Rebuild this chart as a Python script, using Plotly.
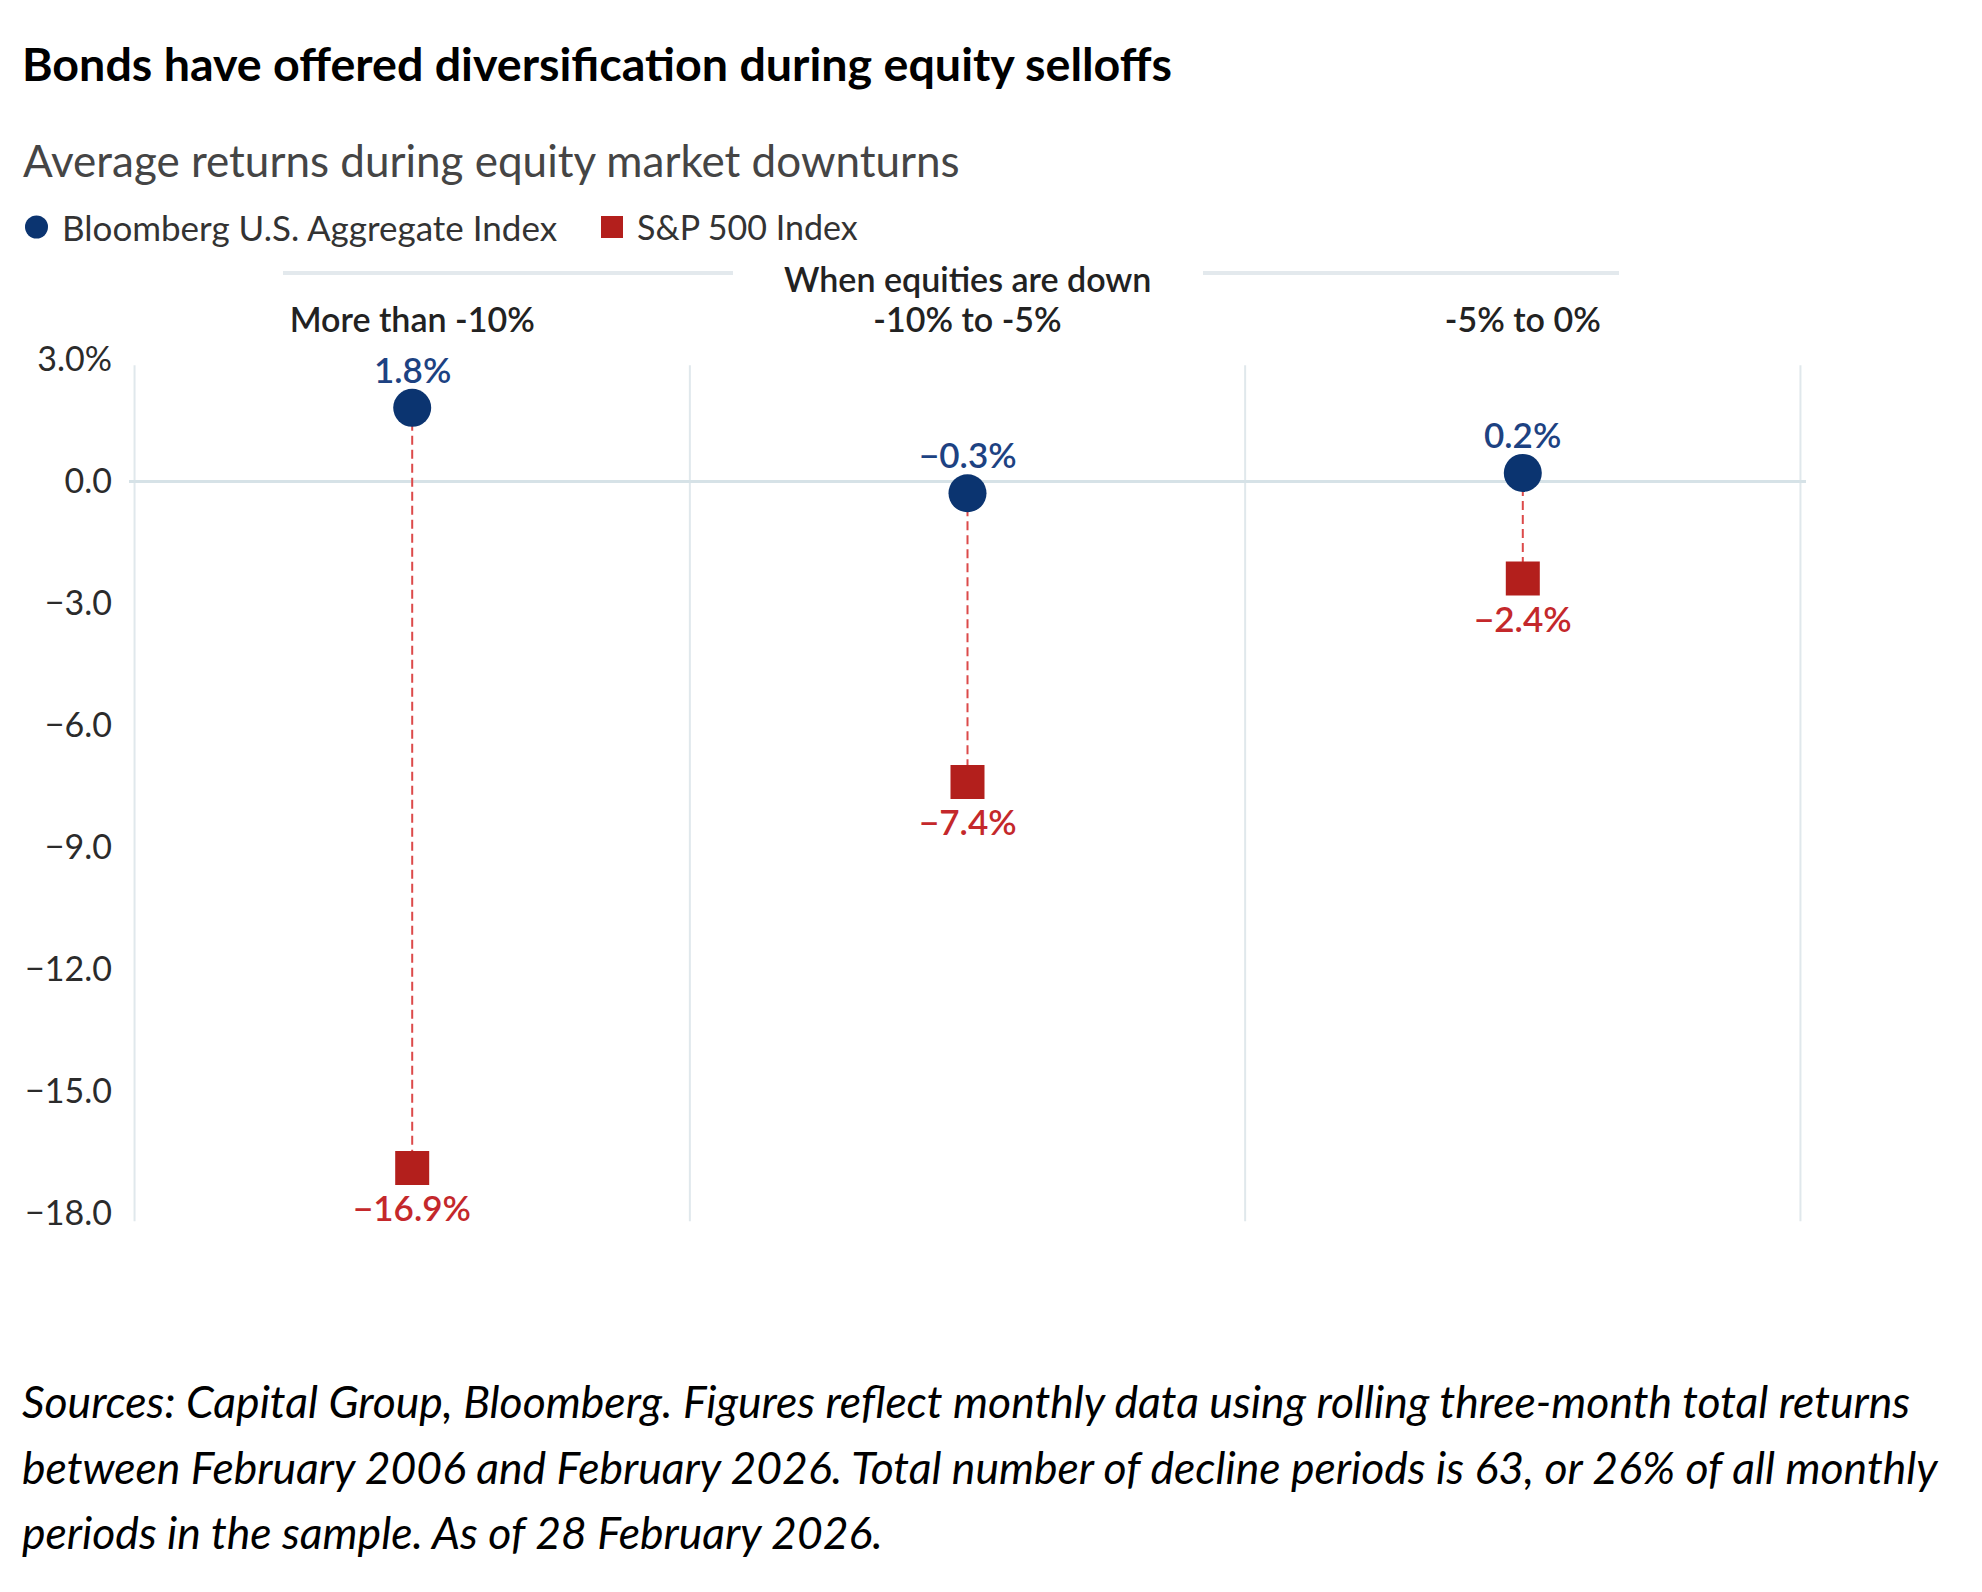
import plotly.graph_objects as go

# data
categories = ["More than -10%", "-10% to -5%", "-5% to 0%"]
bond_returns = [1.8, -0.3, 0.2]
sp500_returns = [-16.9, -7.4, -2.4]
y_ticks = [3, 0, -3, -6, -9, -12, -15, -18]
y_tick_labels = ["3.0%", "0.0", "−3.0", "−6.0", "−9.0", "−12.0", "−15.0", "−18.0"]
series_names = ["Bloomberg U.S. Aggregate Index", "S&P 500 Index"]

footnote = [
    "Sources: Capital Group, Bloomberg. Figures reflect monthly data using rolling three-month total returns",
    "between February 2006 and February 2026. Total number of decline periods is 63, or 26% of all monthly",
    "periods in the sample. As of 28 February 2026.",
]

NAVY = "#0b3470"
NAVY_TXT = "#1d4282"
RED = "#b31f1c"
RED_TXT = "#c4282b"
GRID = "#e0e8ec"
FONT = "Lato"

# page body has an 8px margin, so the figure is a bit smaller than the window
OFF = 8
FW, FH = 1966, 1576
L, R, T, B = 121, 168, 347, 361
PW, PH = FW - L - R, FH - T - B


def sx(x):
    # screen x -> paper x
    return (x - OFF - L) / PW


def sy(y):
    # screen y -> paper y
    return (FH - B - (y - OFF)) / PH


def fmt(v):
    return f"{v:.1f}%".replace("-", "−")


x_pos = list(range(len(categories)))

# dashed connectors between the two index markers
cx, cy = [], []
for i, (b, s) in enumerate(zip(bond_returns, sp500_returns)):
    cx += [i, i, None]
    cy += [b, s, None]

fig = go.Figure()
fig.add_trace(go.Scatter(
    x=cx, y=cy, mode="lines", showlegend=False, hoverinfo="skip",
    line=dict(color="#dc4a4a", width=2, dash="9px,5px"),
))
fig.add_trace(go.Scatter(
    x=x_pos, y=bond_returns, mode="markers", name=series_names[0],
    marker=dict(symbol="circle", size=38, color=NAVY), cliponaxis=False,
))
fig.add_trace(go.Scatter(
    x=x_pos, y=sp500_returns, mode="markers", name=series_names[1],
    marker=dict(symbol="square", size=34, color=RED), cliponaxis=False,
))

# value labels
for i in x_pos:
    fig.add_annotation(x=i, y=bond_returns[i], text=fmt(bond_returns[i]), yshift=39,
                       showarrow=False, yanchor="middle",
                       font=dict(family=FONT, size=35, color=NAVY_TXT, weight=600))
    fig.add_annotation(x=i, y=sp500_returns[i], text=fmt(sp500_returns[i]), yshift=-39,
                       showarrow=False, yanchor="middle",
                       font=dict(family=FONT, size=35, color=RED_TXT, weight=600))

# category dividers
for xb in [-0.5, 0.5, 1.5, 2.5]:
    fig.add_shape(type="line", xref="x", yref="y", x0=xb, x1=xb, y0=-18.21, y1=2.85,
                  line=dict(color=GRID, width=2), layer="below")

# header rule either side of "When equities are down"
for a, b in [(283, 733), (1203, 1619)]:
    fig.add_shape(type="line", xref="paper", yref="paper", x0=sx(a), x1=sx(b),
                  y0=sy(273), y1=sy(273), line=dict(color="#e3e9ed", width=4))

# legend keys
fig.add_shape(type="circle", xref="paper", yref="paper", x0=sx(25), x1=sx(48),
              y0=sy(238.5), y1=sy(215.5), fillcolor=NAVY, line=dict(width=0))
fig.add_shape(type="rect", xref="paper", yref="paper", x0=sx(601), x1=sx(623),
              y0=sy(238), y1=sy(216), fillcolor=RED, line=dict(width=0))

ann = [
    dict(text="<b>Bonds have offered diversification during equity selloffs</b>",
         x=sx(20), y=sy(63), font=dict(family=FONT, size=46.6, color="#000000")),
    dict(text="Average returns during equity market downturns",
         x=sx(21), y=sy(160), font=dict(family=FONT, size=44, color="#454545")),
    dict(text=series_names[0], x=sx(60), y=sy(227),
         font=dict(family=FONT, size=35, color="#333333")),
    dict(text=series_names[1], x=sx(635), y=sy(227),
         font=dict(family=FONT, size=34, color="#333333")),
    dict(text="When equities are down", x=sx(967), y=sy(278), xanchor="center",
         font=dict(family=FONT, size=34, color="#222222", weight=600)),
]
for i, (line, yc) in enumerate(zip(footnote, [1400, 1466, 1531])):
    ann.append(dict(text=f"<i>{line}</i>", x=sx(20), y=sy(yc),
                    font=dict(family=FONT, size=44.5, color="#000000")))
for a in ann:
    a.setdefault("xanchor", "left")
    fig.add_annotation(xref="paper", yref="paper", yanchor="middle", showarrow=False, **a)

fig.update_xaxes(
    range=[-0.51, 2.51], side="top", tickvals=x_pos, ticktext=categories,
    tickfont=dict(family=FONT, size=34, color="#222222", weight=600),
    ticks="", ticklabelstandoff=15, showgrid=False, zeroline=False, showline=False,
)
fig.update_yaxes(
    range=[-18.25, 3.1], tickvals=y_ticks, ticktext=y_tick_labels,
    tickfont=dict(family=FONT, size=34, color="#2b2b2b"),
    ticks="", ticklabelstandoff=16, showgrid=False,
    zeroline=True, zerolinecolor="#d6e2e7", zerolinewidth=2.5, showline=False,
)
fig.update_layout(
    width=FW, height=FH, paper_bgcolor="white", plot_bgcolor="white",
    margin=dict(l=L, r=R, t=T, b=B),
    showlegend=False,
    font=dict(family=FONT),
)

fig.write_html("out.html")
